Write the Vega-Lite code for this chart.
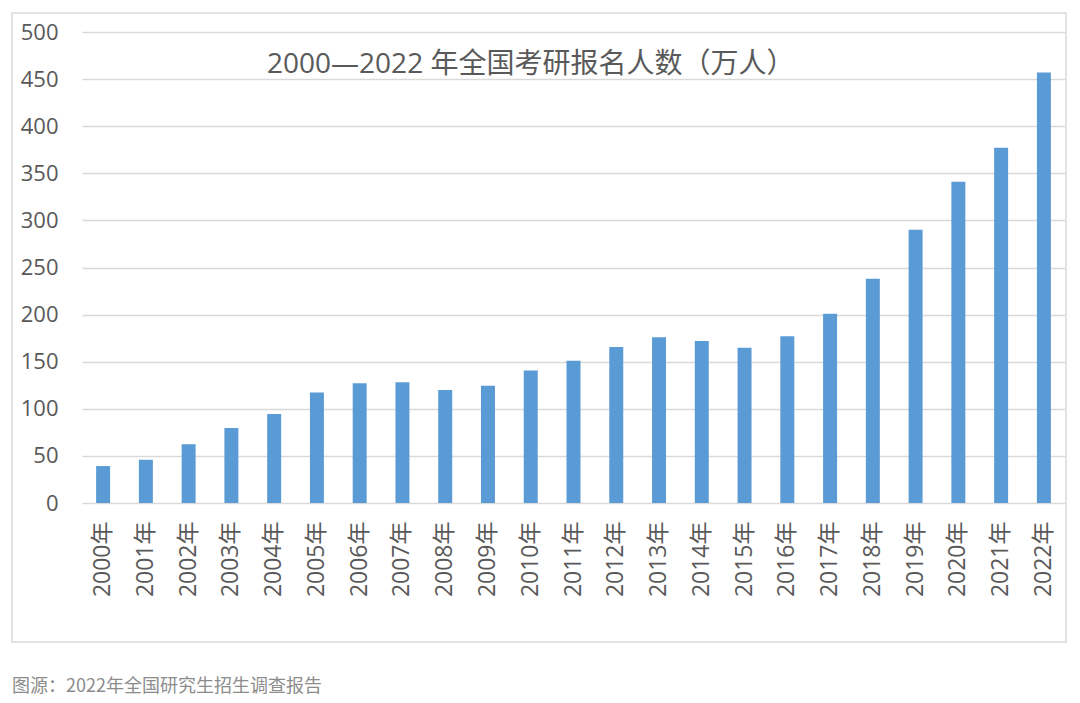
{
  "$schema": "https://vega.github.io/schema/vega-lite/v6.json",
  "width": 1054,
  "height": 629,
  "autosize": {"type": "none"},
  "padding": {"left": 12, "top": 13, "right": 14, "bottom": 61},
  "background": "white",
  "title": {
    "text": "图源：2022年全国研究生招生调查报告",
    "orient": "bottom",
    "anchor": "start",
    "frame": "group",
    "offset": 36,
    "fontSize": 18,
    "fontWeight": "normal",
    "color": "#8c8c8c",
    "font": "Noto Sans CJK SC"
  },
  "config": {
    "view": {"stroke": "#d9d9d9", "strokeWidth": 1.5},
    "axis": {"labelFont": "Open Sans, Noto Sans CJK SC", "labelColor": "#595959"}
  },
  "data": {
    "values": [
      {"year": "2000年", "applicants": 39.2},
      {"year": "2001年", "applicants": 46},
      {"year": "2002年", "applicants": 62.4},
      {"year": "2003年", "applicants": 79.7},
      {"year": "2004年", "applicants": 94.5},
      {"year": "2005年", "applicants": 117.2},
      {"year": "2006年", "applicants": 127.1},
      {"year": "2007年", "applicants": 128.2},
      {"year": "2008年", "applicants": 120},
      {"year": "2009年", "applicants": 124.6},
      {"year": "2010年", "applicants": 140.6},
      {"year": "2011年", "applicants": 151.1},
      {"year": "2012年", "applicants": 165.6},
      {"year": "2013年", "applicants": 176},
      {"year": "2014年", "applicants": 172},
      {"year": "2015年", "applicants": 164.9},
      {"year": "2016年", "applicants": 177},
      {"year": "2017年", "applicants": 201},
      {"year": "2018年", "applicants": 238},
      {"year": "2019年", "applicants": 290},
      {"year": "2020年", "applicants": 341},
      {"year": "2021年", "applicants": 377},
      {"year": "2022年", "applicants": 457}
    ]
  },
  "layer": [
    {
      "mark": {"type": "bar", "color": "#5B9BD5"},
      "encoding": {
        "x": {
          "field": "year",
          "type": "nominal",
          "sort": null,
          "scale": {"range": [70, 1053], "paddingInner": 0.673, "paddingOuter": 0.33},
          "axis": {
            "orient": "bottom",
            "offset": -139,
            "title": null,
            "domain": false,
            "ticks": false,
            "grid": false,
            "labelAngle": -90,
            "labelPadding": 18,
            "labelFontSize": 23
          }
        },
        "y": {
          "field": "applicants",
          "type": "quantitative",
          "scale": {"domain": [0, 500], "range": [490, 19]},
          "axis": {
            "orient": "left",
            "offset": -70,
            "title": null,
            "domain": false,
            "ticks": false,
            "grid": true,
            "gridColor": "#d9d9d9",
            "gridWidth": 1.5,
            "values": [0, 50, 100, 150, 200, 250, 300, 350, 400, 450, 500],
            "labelPadding": 24,
            "labelFontSize": 22
          }
        }
      }
    },
    {
      "data": {"values": [{"label": "2000—2022 年全国考研报名人数（万人）"}]},
      "mark": {
        "type": "text",
        "fontSize": 28,
        "font": "Open Sans, Noto Sans CJK SC",
        "color": "#595959",
        "baseline": "middle",
        "align": "center"
      },
      "encoding": {
        "text": {"field": "label", "type": "nominal"},
        "x": {"datum": "2010年", "type": "nominal"},
        "y": {"datum": 465, "type": "quantitative"}
      }
    }
  ]
}
